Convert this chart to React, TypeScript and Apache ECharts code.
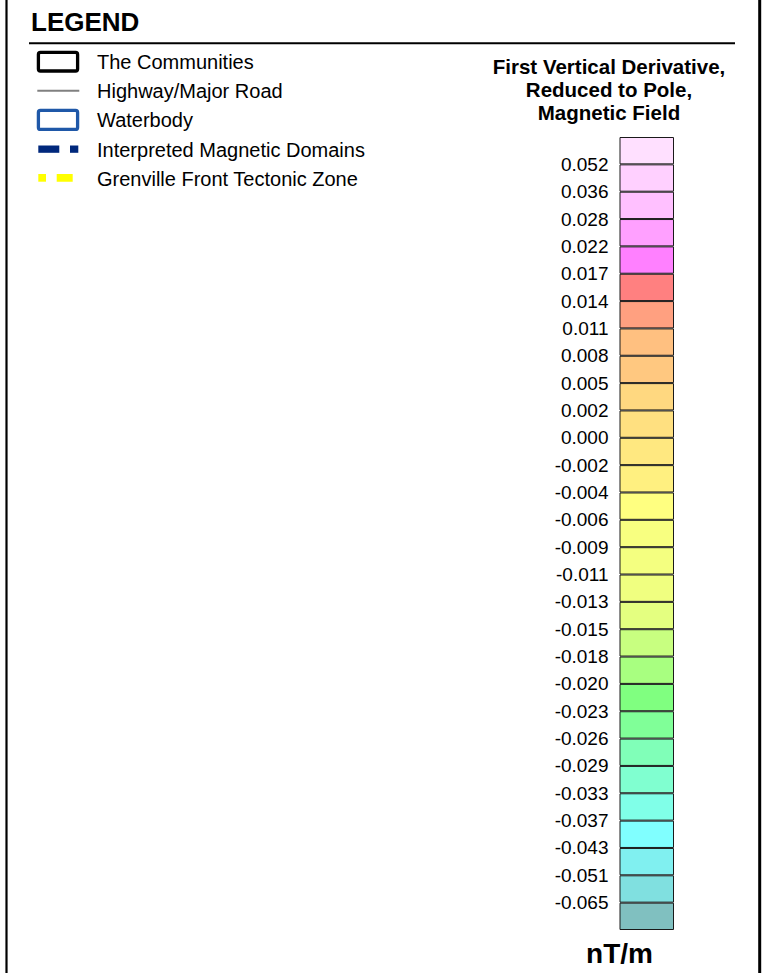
import React, { useEffect, useRef } from "react";
import * as echarts from "echarts";

// Class boundaries (top to bottom) of the colour bar
const boundaryLabels = [
  "0.052", "0.036", "0.028", "0.022", "0.017", "0.014", "0.011", "0.008",
  "0.005", "0.002", "0.000", "-0.002", "-0.004", "-0.006", "-0.009", "-0.011",
  "-0.013", "-0.015", "-0.018", "-0.020", "-0.023", "-0.026", "-0.029", "-0.033",
  "-0.037", "-0.043", "-0.051", "-0.065",
];

// Colour of each class cell (top to bottom), one more than boundaries
const cellColors = [
  "#ffe0ff", "#ffd0ff", "#ffc0ff", "#ffa0ff", "#ff80ff",
  "#ff8080", "#ffa080", "#ffc080", "#ffc880", "#ffd880",
  "#ffe080", "#ffe880", "#fff080", "#ffff80", "#f8ff80",
  "#f4ff80", "#f0ff80", "#e4ff80", "#c8ff80", "#a8ff80",
  "#80ff80", "#80ff98", "#80ffb8", "#80ffd0", "#80ffe8",
  "#80ffff", "#80f0f0", "#80e0e0", "#80c0c0",
];

const legendItems = [
  "The Communities",
  "Highway/Major Road",
  "Waterbody",
  "Interpreted Magnetic Domains",
  "Grenville Front Tectonic Zone",
];

const titleLines = ["First Vertical Derivative,", "Reduced to Pole,", "Magnetic Field"];
const unitLabel = "nT/m";

const FONT = '"Liberation Sans", Arial, Helvetica, sans-serif';

export default function App() {
  const ref = useRef<HTMLDivElement>(null);

  useEffect(() => {
    if (!ref.current) return;
    const chart = echarts.init(ref.current, null, { renderer: "svg" });

    const rowY = [62, 91, 120, 150, 179];

    const graphic: any[] = [
      // frame sides
      { type: "line", shape: { x1: 6.5, y1: 0, x2: 6.5, y2: 973 }, style: { stroke: "#000", lineWidth: 2.2 } },
      { type: "line", shape: { x1: 759.7, y1: 0, x2: 759.7, y2: 973 }, style: { stroke: "#000", lineWidth: 3 } },
      // heading
      {
        type: "text",
        style: { text: "LEGEND", x: 31, y: 22, font: `bold 26px ${FONT}`, fill: "#000", textAlign: "left", textVerticalAlign: "middle" },
      },
      { type: "line", shape: { x1: 29, y1: 43.3, x2: 735, y2: 43.3 }, style: { stroke: "#000", lineWidth: 2 } },
      // symbols
      { type: "rect", shape: { x: 38.4, y: 52.4, width: 39.2, height: 18.6, r: 2 }, style: { fill: "#fff", stroke: "#000", lineWidth: 3.3 } },
      { type: "line", shape: { x1: 37.3, y1: 90.7, x2: 79.3, y2: 90.7 }, style: { stroke: "#808080", lineWidth: 2 } },
      { type: "rect", shape: { x: 38.4, y: 110.4, width: 39.2, height: 19, r: 2 }, style: { fill: "#fff", stroke: "#1f58a8", lineWidth: 3.3 } },
      { type: "rect", shape: { x: 38.3, y: 145.5, width: 21, height: 7.3 }, style: { fill: "#00287c" } },
      { type: "rect", shape: { x: 70, y: 145.5, width: 8.3, height: 7.3 }, style: { fill: "#00287c" } },
      { type: "rect", shape: { x: 38.3, y: 174, width: 7.7, height: 7.7 }, style: { fill: "#ffff00" } },
      { type: "rect", shape: { x: 56.7, y: 174, width: 16, height: 7.7 }, style: { fill: "#ffff00" } },
      // colour bar title
      ...titleLines.map((t, i) => ({
        type: "text",
        style: { text: t, x: 609, y: 66 + i * 23, font: `bold 20.5px ${FONT}`, fill: "#000", textAlign: "center", textVerticalAlign: "middle" },
      })),
      {
        type: "text",
        style: { text: unitLabel, x: 619.5, y: 953, font: `bold 28px ${FONT}`, fill: "#000", textAlign: "center", textVerticalAlign: "middle" },
      },
    ];

    legendItems.forEach((t, i) => {
      graphic.push({
        type: "text",
        style: { text: t, x: 97, y: rowY[i], font: `20px ${FONT}`, fill: "#000", textAlign: "left", textVerticalAlign: "middle" },
      });
    });

    chart.setOption({
      animation: false,
      backgroundColor: "#fff",
      grid: { left: 619.5, top: 137, width: 54.5, height: 793 },
      xAxis: { type: "value", min: 0, max: 1, show: false },
      yAxis: [
        {
          type: "category",
          data: cellColors.map((_, i) => String(i)),
          inverse: true,
          show: false,
        },
        {
          type: "value",
          min: 0,
          max: cellColors.length,
          interval: 1,
          inverse: true,
          position: "left",
          axisLine: { show: false },
          axisTick: { show: false },
          splitLine: { show: false },
          axisLabel: {
            color: "#000",
            fontSize: 19,
            fontFamily: FONT,
            margin: 11,
            formatter: (v: number) => {
              const k = Math.round(v);
              return k >= 1 && k <= boundaryLabels.length ? boundaryLabels[k - 1] : "";
            },
          },
        },
      ],
      series: [
        {
          type: "bar",
          yAxisIndex: 0,
          barCategoryGap: "0%",
          barWidth: "100%",
          silent: true,
          itemStyle: { borderColor: "#1a1a1a", borderWidth: 1 },
          data: cellColors.map((c) => ({ value: 1, itemStyle: { color: c } })),
        },
      ],
      graphic,
    });

    return () => chart.dispose();
  }, []);

  return (
    <div
      ref={ref}
      style={{ position: "absolute", left: 0, top: 0, width: 769, height: 973, background: "#fff" }}
    />
  );
}
